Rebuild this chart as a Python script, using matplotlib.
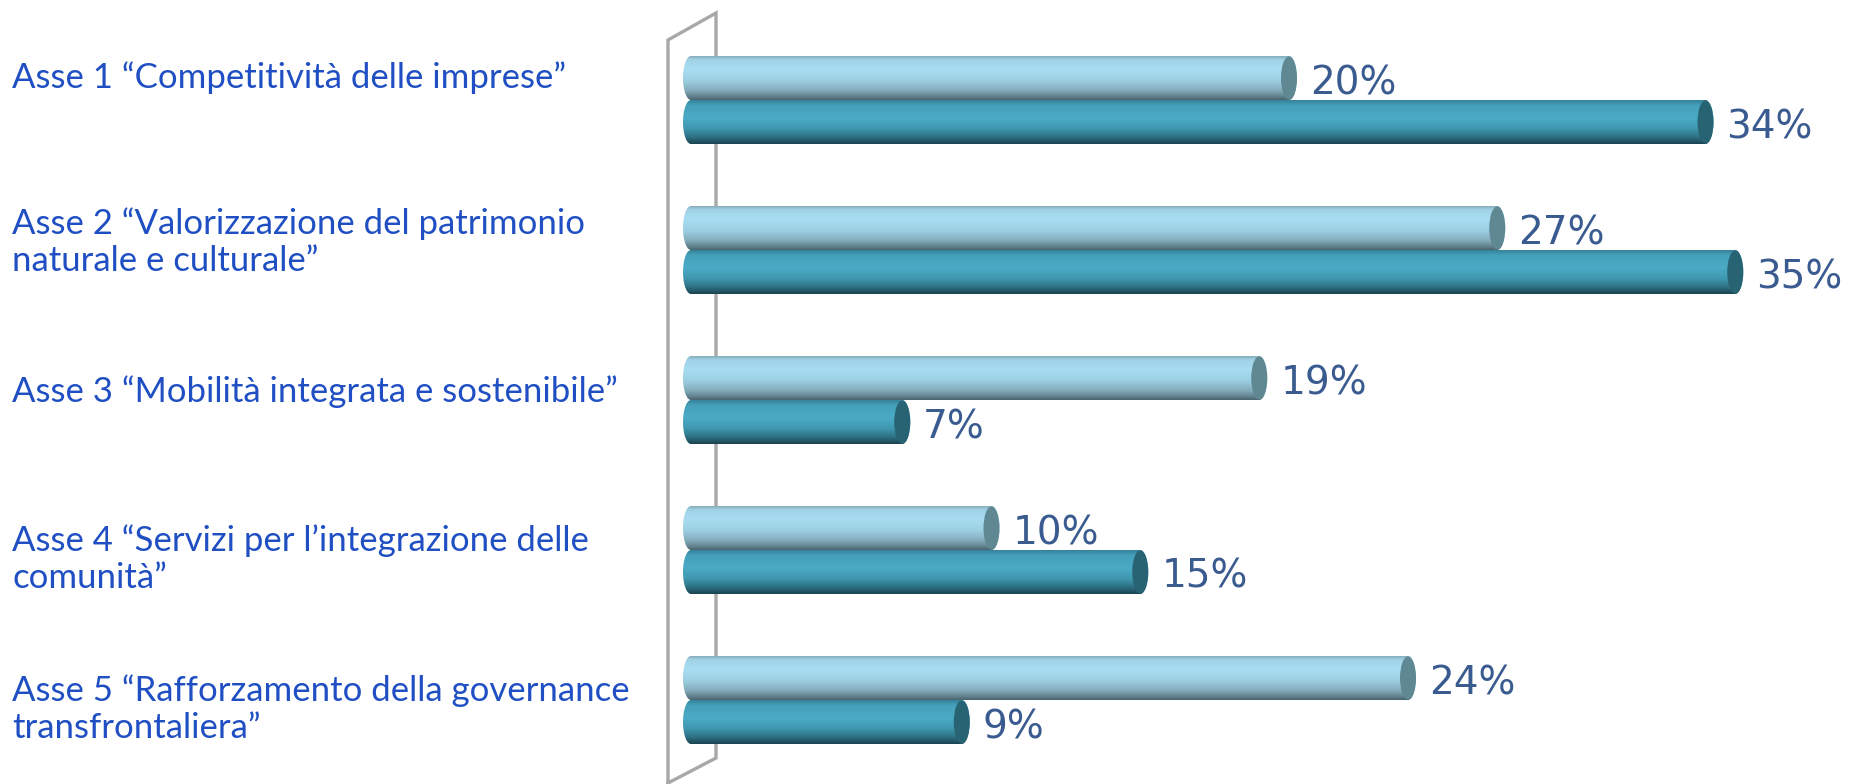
import numpy as np
import matplotlib
matplotlib.use("Agg")
import matplotlib.pyplot as plt
from matplotlib.path import Path
from matplotlib.patches import PathPatch, Ellipse
from matplotlib.colors import LinearSegmentedColormap

# ---------------- data ----------------
categories = ["Asse 1 \u201cCompetitivit\u00e0 delle imprese\u201d",
              "Asse 2 \u201cValorizzazione del patrimonio\nnaturale e culturale\u201d",
              "Asse 3 \u201cMobilit\u00e0 integrata e sostenibile\u201d",
              "Asse 4 \u201cServizi per l\u2019integrazione delle\ncomunit\u00e0\u201d",
              "Asse 5 \u201cRafforzamento della governance\ntransfrontaliera\u201d"]
light_vals = [20, 27, 19, 10, 24]
dark_vals = [34, 35, 7, 15, 9]

# ---------------- geometry (pixels -> data) ----------------
W, H = 1854, 784
SX = 29.75          # px per percent
X0 = 702            # px of 0 %
SY = 150            # px per category row
Y0 = 100            # px of first row centre
CAT_SHIFT = [-22, -8, -8, 9, 9]   # px nudge of the category labels


def dx(px):
    return px / SX


def dy(px):
    return px / SY


BAR_H = dy(44)
CAP_A = dx(8)
LEFT_C = dx(683 - X0) + CAP_A   # left rounded end centre

light_cmap = LinearSegmentedColormap.from_list("light", [
    (0.0, "#86adbb"), (0.08, "#a0d2e6"), (0.3, "#a8ddf1"), (0.55, "#9dd0e3"),
    (0.78, "#84adbc"), (0.92, "#62838e"), (1.0, "#4a646e")])
dark_cmap = LinearSegmentedColormap.from_list("dark", [
    (0.0, "#35829a"), (0.12, "#45a0ba"), (0.4, "#4aabc6"), (0.65, "#3f97af"),
    (0.85, "#2c6f81"), (1.0, "#1b4350")])
LIGHT_CAP = "#5f8893"
DARK_CAP = "#286374"
LABEL_C = "#3a5b8f"
CAT_C = "#1f4fc2"
WALL_C = "#a8a8a8"


def cylinder(ax, x_end, y_top, h, cmap, cap_color):
    xr = x_end - CAP_A
    t = np.linspace(-np.pi / 2, np.pi / 2, 40)
    yc = y_top + h / 2
    # right half ellipse top -> bottom (y axis inverted: top is smaller y)
    right = np.column_stack([xr + CAP_A * np.cos(t), yc + (h / 2) * np.sin(t)])
    left = np.column_stack([LEFT_C - CAP_A * np.cos(t), yc - (h / 2) * np.sin(t)])
    verts = np.vstack([[LEFT_C, y_top], right, left, [LEFT_C, y_top]])
    patch = PathPatch(Path(verts), fc="none", ec="none")
    ax.add_patch(patch)
    grad = np.linspace(0, 1, 200).reshape(-1, 1)
    im = ax.imshow(grad, cmap=cmap, aspect="auto", interpolation="bilinear",
                   extent=(LEFT_C - CAP_A, x_end, y_top + h, y_top), zorder=2)
    im.set_clip_path(patch)
    ax.add_patch(Ellipse((xr, yc), 2 * CAP_A, h * 0.98, fc=cap_color, ec="none", zorder=3))


fig = plt.figure(figsize=(W / 100, H / 100), dpi=100)
ax = fig.add_axes([0, 0, 1, 1])
ax.axis("off")

# back wall drawn as a thin 3D panel
wx0, wx1 = dx(668 - X0), dx(716 - X0)
ax.plot([wx0, wx0, wx1, wx1, wx0], [dy(H + 5 - Y0), dy(40 - Y0), dy(13 - Y0), dy(758 - Y0), dy(783 - Y0)],
        color=WALL_C, lw=2.4, solid_joinstyle="miter", zorder=1)

for i, (lv, dv) in enumerate(zip(light_vals, dark_vals)):
    cylinder(ax, lv, i - BAR_H, BAR_H, light_cmap, LIGHT_CAP)
    cylinder(ax, dv, i, BAR_H, dark_cmap, DARK_CAP)
    ax.text(lv + dx(13), i - BAR_H / 2 + dy(5), f"{lv}%", fontsize=28, color=LABEL_C,
            ha="left", va="center", family="DejaVu Sans", zorder=4)
    ax.text(dv + dx(13), i + BAR_H / 2 + dy(5), f"{dv}%", fontsize=28, color=LABEL_C,
            ha="left", va="center", family="DejaVu Sans", zorder=4)
    ax.text(12 / W, i + dy(CAT_SHIFT[i]), categories[i], transform=ax.get_yaxis_transform(),
            fontsize=25, color=CAT_C, ha="left", va="center", family="Lato",
            linespacing=1.2)

ax.set_xlim(-X0 / SX, (W - X0) / SX)
ax.set_ylim((H - Y0) / SY, -Y0 / SY)
fig.savefig("out.png", dpi=100)
